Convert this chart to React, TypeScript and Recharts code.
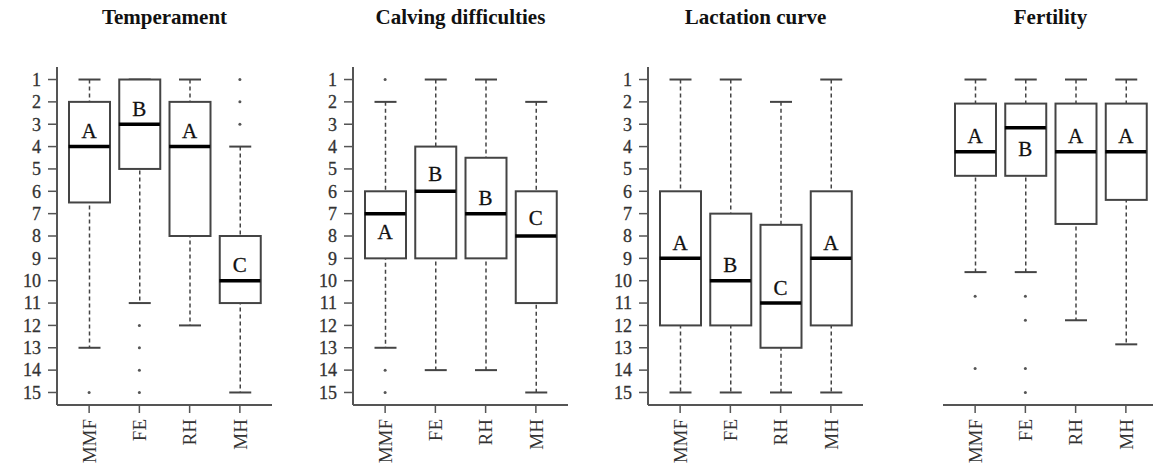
import React from 'react'
import { ComposedChart, Bar, Scatter, XAxis, YAxis } from 'recharts'

const SERIF = '"Liberation Serif", "Times New Roman", serif'
const INK = '#444'

const breeds = ['MMF', 'FE', 'RH', 'MH']
const rankTicks = [1, 2, 3, 4, 5, 6, 7, 8, 9, 10, 11, 12, 13, 14, 15]

// Temperament
const tempLow = [1, 1, 1, 4]
const tempQ1 = [2, 1, 2, 8]
const tempMedian = [4, 3, 4, 10]
const tempQ3 = [6.5, 5, 8, 11]
const tempHigh = [13, 11, 12, 15]
const tempOutliers = [[15], [12, 13, 14, 15], [], [1, 2, 3]]
const tempLetters = ['A', 'B', 'A', 'C']
const tempLetterAt = [3.3, 2.3, 3.3, 9.3]

// Calving difficulties
const calvLow = [2, 1, 1, 2]
const calvQ1 = [6, 4, 4.5, 6]
const calvMedian = [7, 6, 7, 8]
const calvQ3 = [9, 9, 9, 11]
const calvHigh = [13, 14, 14, 15]
const calvOutliers = [[1, 14, 15], [], [], []]
const calvLetters = ['A', 'B', 'B', 'C']
const calvLetterAt = [7.8, 5.2, 6.3, 7.2]

// Lactation curve
const lactLow = [1, 1, 2, 1]
const lactQ1 = [6, 7, 7.5, 6]
const lactMedian = [9, 10, 11, 9]
const lactQ3 = [12, 12, 13, 12]
const lactHigh = [15, 15, 15, 15]
const lactOutliers = [[], [], [], []]
const lactLetters = ['A', 'B', 'C', 'A']
const lactLetterAt = [8.3, 9.3, 10.3, 8.3]

// Fertility (ranks 1-14, no rank axis drawn)
const fertLow = [1, 1, 1, 1]
const fertQ1 = [2, 2, 2, 2]
const fertMedian = [4, 3, 4, 4]
const fertQ3 = [5, 5, 7, 6]
const fertHigh = [9, 9, 11, 12]
const fertOutliers = [[10, 13], [10, 11, 13, 14], [], []]
const fertLetters = ['A', 'B', 'A', 'A']
const fertLetterAt = [3.33, 3.87, 3.33, 3.33]

const OUTLIER_SLOTS = [0, 1, 2, 3]
const BOX_W = 41
const CAP = 11

type Row = {
  name: string
  whisker: [number, number]
  box: [number, number]
  median: number
  letter: string
  letterAt: number
  o0: number | null
  o1: number | null
  o2: number | null
  o3: number | null
}

const buildRows = (
  low: number[],
  q1: number[],
  med: number[],
  q3: number[],
  high: number[],
  outliers: number[][],
  letters: string[],
  letterAt: number[]
): Row[] =>
  breeds.map((name, i) => ({
    name,
    whisker: [low[i], high[i]],
    box: [q1[i], q3[i]],
    median: med[i],
    letter: letters[i],
    letterAt: letterAt[i],
    o0: outliers[i][0] ?? null,
    o1: outliers[i][1] ?? null,
    o2: outliers[i][2] ?? null,
    o3: outliers[i][3] ?? null,
  }))

const WhiskerShape = (props: any) => {
  const { x, y, width, height } = props
  const cx = x + width / 2
  const top = Math.min(y, y + height)
  const bottom = Math.max(y, y + height)
  return (
    <g>
      <line x1={cx} x2={cx} y1={top} y2={bottom} stroke={INK} strokeWidth={1.5} strokeDasharray="4 3" />
      <line x1={cx - CAP} x2={cx + CAP} y1={top} y2={top} stroke={INK} strokeWidth={2} />
      <line x1={cx - CAP} x2={cx + CAP} y1={bottom} y2={bottom} stroke={INK} strokeWidth={2} />
    </g>
  )
}

const BoxShape = (props: any) => {
  const { x, y, width, height } = props
  return (
    <rect
      x={x}
      y={Math.min(y, y + height)}
      width={width}
      height={Math.abs(height)}
      fill="#fff"
      stroke={INK}
      strokeWidth={2}
    />
  )
}

const MedianShape = (props: any) => {
  const { cx, cy } = props
  return <line x1={cx - BOX_W / 2} x2={cx + BOX_W / 2} y1={cy} y2={cy} stroke="#000" strokeWidth={3.5} />
}

const LetterShape = (props: any) => {
  const { cx, cy, payload } = props
  return (
    <text
      x={cx}
      y={cy}
      dy="0.35em"
      textAnchor="middle"
      style={{ fontFamily: SERIF, fontSize: 21, fill: '#111', stroke: '#111', strokeWidth: 0.3 }}
    >
      {payload.letter}
    </text>
  )
}

const outlierShape = (slot: number) => (props: any) => {
  const { cx, cy, payload } = props
  if (payload[`o${slot}`] == null || !Number.isFinite(cy)) return <g />
  return <circle cx={cx} cy={cy} r={1.5} fill="#555" />
}

const BreedTick = ({ x, y, payload }: any) => (
  <text
    x={x}
    y={y}
    transform={`rotate(-90 ${x} ${y})`}
    textAnchor="end"
    dy="0.35em"
    style={{ fontFamily: SERIF, fontSize: 19, fill: '#333' }}
  >
    {payload.value}
  </text>
)

const RankTick = ({ x, y, payload }: any) => (
  <text
    x={x}
    y={y}
    dy="0.35em"
    textAnchor="end"
    style={{ fontFamily: SERIF, fontSize: 18, fill: '#333', stroke: '#333', strokeWidth: 0.3 }}
  >
    {payload.value}
  </text>
)

type PanelProps = {
  title: string
  rows: Row[]
  domain: [number, number]
  ticks?: number[]
  left: number
}

const BoxPanel = ({ title, rows, domain, ticks, left }: PanelProps) => {
  const axisW = ticks ? 50 : 0
  const axisLine = { stroke: '#555', strokeWidth: 2 }
  return (
    <div style={{ position: 'absolute', left, top: 0, width: 290, height: 468 }}>
      <div
        style={{
          position: 'absolute',
          left: 57,
          width: 215,
          top: 5,
          textAlign: 'center',
          fontFamily: SERIF,
          fontWeight: 'bold',
          fontSize: 21,
          color: '#111',
        }}
      >
        {title}
      </div>
      <ComposedChart
        width={290}
        height={468}
        data={rows}
        style={{ fontFamily: SERIF }}
        margin={{ top: 67, right: 18, bottom: 3, left: 57 - axisW }}
      >
        <XAxis
          xAxisId="b"
          dataKey="name"
          height={60}
          interval={0}
          padding={{ left: 7, right: 7 }}
          tickSize={8}
          tickMargin={6}
          tickLine={{ stroke: '#555', strokeWidth: 1.5 }}
          axisLine={axisLine}
          tick={<BreedTick />}
        />
        <XAxis
          xAxisId="t"
          dataKey="name"
          orientation="top"
          height={0}
          padding={{ left: 7, right: 7 }}
          tick={false}
          tickLine={false}
          axisLine={axisLine}
        />
        <YAxis
          yAxisId="l"
          type="number"
          domain={domain}
          reversed
          ticks={ticks ?? []}
          interval={0}
          width={axisW}
          tick={ticks ? <RankTick /> : false}
          tickSize={9}
          tickMargin={7}
          tickLine={ticks ? { stroke: '#555', strokeWidth: 1.5 } : false}
          axisLine={axisLine}
        />
        <YAxis
          yAxisId="r"
          type="number"
          orientation="right"
          domain={domain}
          reversed
          width={0}
          tick={false}
          tickLine={false}
          axisLine={axisLine}
        />
        <Bar xAxisId="t" yAxisId="l" dataKey="whisker" barSize={BOX_W} shape={<WhiskerShape />} isAnimationActive={false} />
        <Bar xAxisId="b" yAxisId="l" dataKey="box" barSize={BOX_W} shape={<BoxShape />} isAnimationActive={false} />
        <Scatter xAxisId="b" yAxisId="l" dataKey="median" shape={<MedianShape />} isAnimationActive={false} />
        <Scatter xAxisId="b" yAxisId="l" dataKey="letterAt" shape={<LetterShape />} isAnimationActive={false} />
        {OUTLIER_SLOTS.map((slot) => (
          <Scatter
            key={slot}
            xAxisId="b"
            yAxisId="l"
            dataKey={`o${slot}`}
            shape={outlierShape(slot)}
            isAnimationActive={false}
          />
        ))}
      </ComposedChart>
    </div>
  )
}

export default function App() {
  return (
    <div
      style={{
        position: 'absolute',
        left: 0,
        top: 0,
        width: 1153,
        height: 468,
        overflow: 'hidden',
        background: '#fff',
      }}
    >
      <BoxPanel
        title="Temperament"
        left={0}
        domain={[0.44, 15.56]}
        ticks={rankTicks}
        rows={buildRows(tempLow, tempQ1, tempMedian, tempQ3, tempHigh, tempOutliers, tempLetters, tempLetterAt)}
      />
      <BoxPanel
        title="Calving difficulties"
        left={296}
        domain={[0.44, 15.56]}
        ticks={rankTicks}
        rows={buildRows(calvLow, calvQ1, calvMedian, calvQ3, calvHigh, calvOutliers, calvLetters, calvLetterAt)}
      />
      <BoxPanel
        title="Lactation curve"
        left={591}
        domain={[0.44, 15.56]}
        ticks={rankTicks}
        rows={buildRows(lactLow, lactQ1, lactMedian, lactQ3, lactHigh, lactOutliers, lactLetters, lactLetterAt)}
      />
      <BoxPanel
        title="Fertility"
        left={886}
        domain={[0.48, 14.52]}
        rows={buildRows(fertLow, fertQ1, fertMedian, fertQ3, fertHigh, fertOutliers, fertLetters, fertLetterAt)}
      />
    </div>
  )
}
